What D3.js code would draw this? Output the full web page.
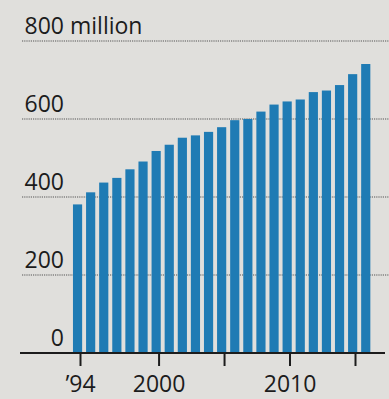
<!DOCTYPE html>
<html>
<head>
<meta charset="utf-8">
<script src="https://cdn.jsdelivr.net/npm/d3@7"></script>
<style>
  html, body { margin: 0; padding: 0; background: #e0dfdc; }
  svg { display: block; }
</style>
</head>
<body>
<svg id="chart" width="389" height="399"></svg>
<script>
// Annual totals, in millions
const years = d3.range(1994, 2017);
const values = [381, 412, 437, 449, 471, 491, 518, 534, 552, 558, 567, 579,
                597, 600, 619, 637, 645, 650, 669, 673, 687, 715, 741];
const yTicks = [0, 200, 400, 600, 800];
const xTicks = [1994, 2000, 2005, 2010, 2015];
const xTickLabels = {1994: "\u201994", 2000: "2000", 2010: "2010"};

const svg = d3.select("#chart");
const font = "'Open Sans', sans-serif";
const ink = "#1c1c1c";

const y = d3.scaleLinear().domain([0, 800]).range([353, 41]);
const x = d3.scaleBand().domain(years).range([71, 372.3])
  .paddingInner(0.3).paddingOuter(0.15);
const xAxisScale = d3.scaleLinear().domain([1994, 2015]).range([80, 355]);

// Dotted gridlines
svg.append("g").selectAll("line")
  .data(yTicks.filter(d => d > 0))
  .join("line")
  .attr("x1", 22).attr("x2", 389)
  .attr("y1", d => y(d)).attr("y2", d => y(d))
  .attr("stroke", "#555")
  .attr("stroke-width", 1.2)
  .attr("stroke-dasharray", "1.2,1");

// Bars
svg.append("g").selectAll("rect")
  .data(years.map((yr, i) => ({yr, v: values[i]})))
  .join("rect")
  .attr("x", d => x(d.yr))
  .attr("width", x.bandwidth())
  .attr("y", d => y(d.v))
  .attr("height", d => y(0) - y(d.v))
  .attr("fill", "#1f7bb4");

// Value axis labels
const yAxis = d3.axisLeft(y).tickValues(yTicks).tickSize(0).tickPadding(0);
const gy = svg.append("g").attr("transform", "translate(64,0)").call(yAxis);
gy.select(".domain").remove();
gy.selectAll("text")
  .attr("font-family", font)
  .attr("font-size", 23)
  .attr("fill", ink)
  .attr("dy", -8)
  .attr("text-anchor", "end")
  .style("dominant-baseline", "auto");
gy.selectAll(".tick").filter(d => d === 800)
  .append("text")
  .attr("x", 0).attr("dy", -8)
  .attr("text-anchor", "start")
  .attr("font-family", font)
  .attr("font-size", 23)
  .attr("fill", ink)
  .text(" million")
  .attr("xml:space", "preserve");

// Baseline axis with year ticks
const xAxis = d3.axisBottom(xAxisScale)
  .tickValues(xTicks)
  .tickSize(13)
  .tickPadding(10)
  .tickFormat(d => xTickLabels[d] || "");
const gx = svg.append("g").attr("transform", `translate(0,${y(0)})`).call(xAxis);
gx.select(".domain").remove();
gx.selectAll(".tick line").attr("stroke", ink).attr("stroke-width", 2);
gx.selectAll("text")
  .attr("font-family", font)
  .attr("font-size", 23)
  .attr("fill", ink);
svg.append("line")
  .attr("x1", 20).attr("x2", 385)
  .attr("y1", y(0)).attr("y2", y(0))
  .attr("stroke", ink).attr("stroke-width", 2);
</script>
</body>
</html>
